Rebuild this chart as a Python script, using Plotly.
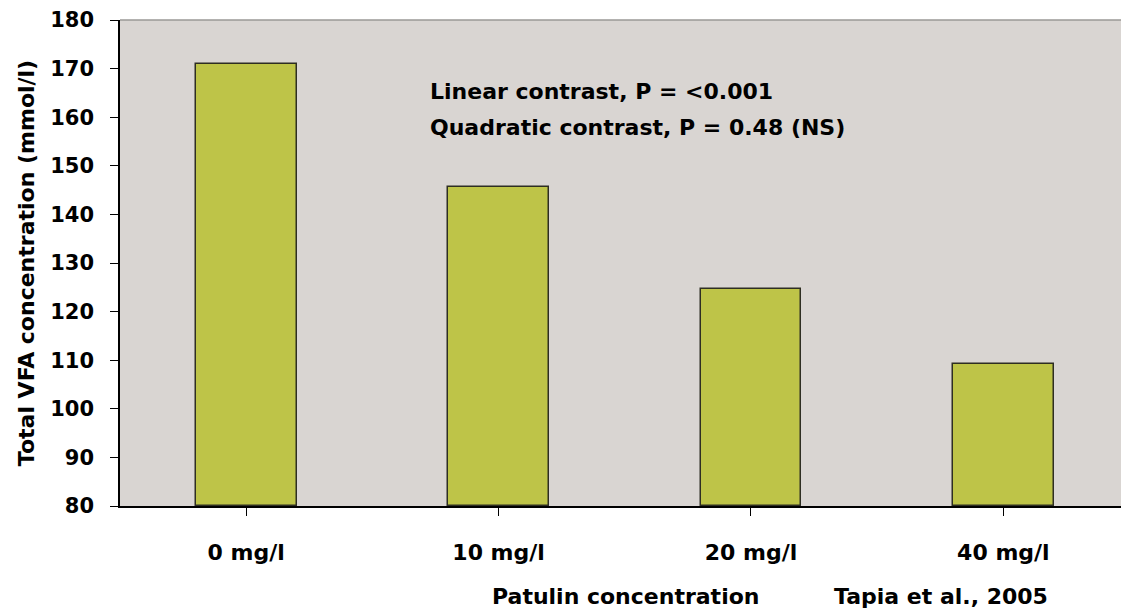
import plotly.graph_objects as go

categories = ["0 mg/l", "10 mg/l", "20 mg/l", "40 mg/l"]
vfa_values = [171.0, 145.6, 124.7, 109.2]
y_ticks = [80, 90, 100, 110, 120, 130, 140, 150, 160, 170, 180]

FONT = "DejaVu Sans, Arial, sans-serif"

fig = go.Figure()
fig.add_trace(go.Bar(
    x=list(range(len(categories))),
    y=[v - 80 for v in vfa_values],
    base=80,
    width=0.4,
    marker=dict(color="#BEC448", line=dict(color="#2E2E22", width=1.5)),
    showlegend=False,
    hoverinfo="skip",
))

fig.update_layout(
    width=1121, height=610,
    margin=dict(l=120, r=0, t=20, b=104),
    paper_bgcolor="white",
    plot_bgcolor="#D9D5D2",
    font=dict(family=FONT, color="black"),
    bargap=0,
)

fig.update_xaxes(
    range=[-0.5, 3.466],
    tickmode="array",
    tickvals=list(range(len(categories))),
    ticktext=categories,
    tickson="boundaries",
    ticks="outside", ticklen=8, tickwidth=1.2, tickcolor="black",
    ticklabelstandoff=18,
    tickfont=dict(size=22, family=FONT, weight="bold"),
    showline=True, linecolor="black", linewidth=1.5,
    showgrid=False, zeroline=False,
)
fig.update_yaxes(
    range=[80, 180],
    tickmode="array",
    tickvals=y_ticks,
    ticktext=[str(t) for t in y_ticks],
    ticks="outside", ticklen=8, tickwidth=1.2, tickcolor="black",
    ticklabelstandoff=12,
    tickfont=dict(size=21, family=FONT, weight="bold"),
    showline=True, linecolor="black", linewidth=1.5,
    showgrid=False, zeroline=False,
    title=dict(text="Total VFA concentration (mmol/l)", standoff=10,
               font=dict(size=22, family=FONT, weight="bold")),
)

# top border of plot area
fig.add_shape(type="line", xref="paper", yref="paper", x0=0, x1=1, y0=1, y1=1,
              line=dict(color="#9A9896", width=1.5))

fig.add_annotation(text="Linear contrast, P = <0.001", xref="paper", yref="paper",
                   x=0.3077, y=0.852, xanchor="left", yanchor="middle", showarrow=False,
                   font=dict(size=22, family=FONT, weight="bold"))
fig.add_annotation(text="Quadratic contrast, P = 0.48 (NS)", xref="paper", yref="paper",
                   x=0.3077, y=0.778, xanchor="left", yanchor="middle", showarrow=False,
                   font=dict(size=22, family=FONT, weight="bold"))
fig.add_annotation(text="Patulin concentration", xref="paper", yref="paper",
                   x=(625 - 120) / 1001, y=-(596 - 506) / 486, xanchor="center", yanchor="middle",
                   showarrow=False, font=dict(size=22, family=FONT, weight="bold"))
fig.add_annotation(text="Tapia et al., 2005", xref="paper", yref="paper",
                   x=(941 - 120) / 1001, y=-(596 - 506) / 486, xanchor="center", yanchor="middle",
                   showarrow=False, font=dict(size=22, family=FONT, weight="bold"))

fig.write_html("out.html", config={"displayModeBar": False},
               post_script="document.body.style.margin='0';document.body.style.overflow='hidden';")
